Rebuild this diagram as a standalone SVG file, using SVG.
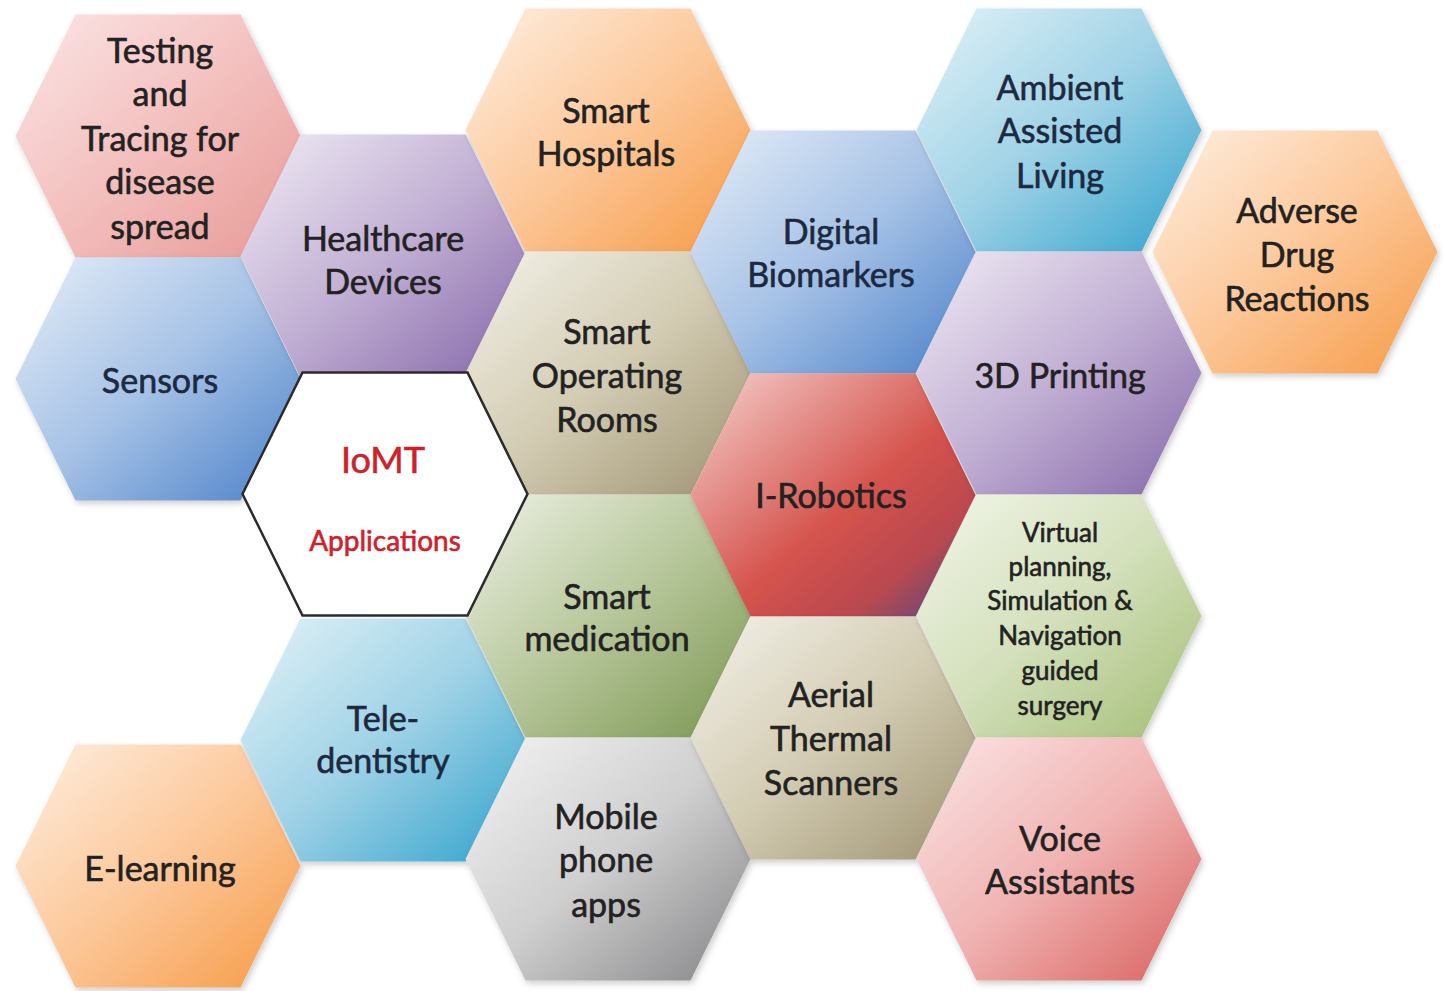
<svg xmlns="http://www.w3.org/2000/svg" xmlns:xlink="http://www.w3.org/1999/xlink" width="1447" height="991" viewBox="0 0 1447 991">
<style>
.t{font-family:Lato,"Open Sans","Liberation Sans",sans-serif;font-size:34px;text-anchor:middle;fill:#222;stroke:#222;stroke-width:0.6px}
.s{font-size:26px}
.d{fill:#1d2940;stroke:#1d2940}
.r{fill:#d0202a;stroke:#d0202a}
.hx{filter:url(#sh)}
</style>
<defs>
<polygon id="hex" points="-142.5,0 -82.5,-121.5 82.5,-121.5 142.5,0 82.5,121.5 -82.5,121.5"/>
<filter id="sh" x="-10%" y="-10%" width="120%" height="125%"><feDropShadow dx="2" dy="3" stdDeviation="3" flood-color="#000" flood-opacity="0.2"/></filter>
<linearGradient id="gPink" x1="0" y1="0" x2="1" y2="1"><stop offset="0" stop-color="#fbe6e6"/><stop offset="0.55" stop-color="#f2bcba"/><stop offset="1" stop-color="#e79a96"/></linearGradient>
<linearGradient id="gPurple" x1="0" y1="0" x2="1" y2="1"><stop offset="0" stop-color="#f1ecf5"/><stop offset="0.5" stop-color="#c2b0d4"/><stop offset="1" stop-color="#8467a8"/></linearGradient>
<linearGradient id="gBlue" x1="0" y1="0" x2="1" y2="1"><stop offset="0" stop-color="#e6eef8"/><stop offset="0.5" stop-color="#a6c2e6"/><stop offset="1" stop-color="#4a80c8"/></linearGradient>
<linearGradient id="gOrange" x1="0" y1="0" x2="1" y2="1"><stop offset="0" stop-color="#fef0e2"/><stop offset="0.5" stop-color="#fcc89a"/><stop offset="1" stop-color="#f69a45"/></linearGradient>
<linearGradient id="gCyan" x1="0" y1="0" x2="1" y2="1"><stop offset="0" stop-color="#e3f3f8"/><stop offset="0.5" stop-color="#9fd2e6"/><stop offset="1" stop-color="#30a2cc"/></linearGradient>
<linearGradient id="gKhaki" x1="0" y1="0" x2="1" y2="1"><stop offset="0" stop-color="#f4f2ea"/><stop offset="0.5" stop-color="#d3ccb3"/><stop offset="1" stop-color="#9d9170"/></linearGradient>
<linearGradient id="gRed" x1="0" y1="0" x2="1" y2="1"><stop offset="0" stop-color="#f6d3d0"/><stop offset="0.55" stop-color="#d5534d"/><stop offset="0.78" stop-color="#b9484f"/><stop offset="1" stop-color="#4c4b86"/></linearGradient>
<linearGradient id="gGreen" x1="0" y1="0" x2="1" y2="1"><stop offset="0" stop-color="#eef2e6"/><stop offset="0.5" stop-color="#b7c79b"/><stop offset="1" stop-color="#7a9550"/></linearGradient>
<linearGradient id="gLGreen" x1="0" y1="0" x2="1" y2="1"><stop offset="0" stop-color="#f2f6ea"/><stop offset="0.5" stop-color="#d3e0bb"/><stop offset="1" stop-color="#a3bd74"/></linearGradient>
<linearGradient id="gGray" x1="0" y1="0" x2="1" y2="1"><stop offset="0" stop-color="#f4f4f4"/><stop offset="0.5" stop-color="#cfcfd0"/><stop offset="1" stop-color="#838385"/></linearGradient>
<linearGradient id="gRose" x1="0" y1="0" x2="1" y2="1"><stop offset="0" stop-color="#fbe6e6"/><stop offset="0.5" stop-color="#f0b4b3"/><stop offset="1" stop-color="#d8605d"/></linearGradient>
</defs>

<g id="testing"><use class="hx" xlink:href="#hex" href="#hex" x="158" y="136" fill="url(#gPink)"/>
<text class="t"><tspan x="160" y="63">Testing</tspan><tspan x="160" y="106">and</tspan><tspan x="160" y="151">Tracing for</tspan><tspan x="160" y="194">disease</tspan><tspan x="160" y="239">spread</tspan></text></g>

<g id="sensors"><use class="hx" xlink:href="#hex" href="#hex" x="158" y="379" fill="url(#gBlue)"/>
<text class="t d" x="160" y="393">Sensors</text></g>

<g id="elearning"><use class="hx" xlink:href="#hex" href="#hex" x="158" y="866" fill="url(#gOrange)"/>
<text class="t" x="160" y="881">E-learning</text></g>

<g id="healthcare"><use class="hx" xlink:href="#hex" href="#hex" x="383" y="256" fill="url(#gPurple)"/>
<text class="t"><tspan x="383" y="251">Healthcare</tspan><tspan x="383" y="294">Devices</tspan></text></g>

<g id="teledentistry"><use class="hx" xlink:href="#hex" href="#hex" x="383" y="740" fill="url(#gCyan)"/>
<text class="t d"><tspan x="383" y="731">Tele-</tspan><tspan x="383" y="773">dentistry</tspan></text></g>

<g id="smarthospitals"><use class="hx" xlink:href="#hex" href="#hex" x="608" y="130" fill="url(#gOrange)"/>
<text class="t"><tspan x="606" y="123">Smart</tspan><tspan x="606" y="166">Hospitals</tspan></text></g>

<g id="smartor"><use class="hx" xlink:href="#hex" href="#hex" x="608" y="373" fill="url(#gKhaki)"/>
<text class="t"><tspan x="607" y="344">Smart</tspan><tspan x="607" y="388">Operating</tspan><tspan x="607" y="432">Rooms</tspan></text></g>

<g id="smartmedication"><use class="hx" xlink:href="#hex" href="#hex" x="608" y="616" fill="url(#gGreen)"/>
<text class="t"><tspan x="607" y="609">Smart</tspan><tspan x="607" y="651">medication</tspan></text></g>

<g id="mobileapps"><use class="hx" xlink:href="#hex" href="#hex" x="608" y="859" fill="url(#gGray)"/>
<text class="t"><tspan x="606" y="829">Mobile</tspan><tspan x="606" y="872">phone</tspan><tspan x="606" y="917">apps</tspan></text></g>

<g id="digitalbiomarkers"><use class="hx" xlink:href="#hex" href="#hex" x="833" y="252" fill="url(#gBlue)"/>
<text class="t d"><tspan x="831" y="244">Digital</tspan><tspan x="831" y="287">Biomarkers</tspan></text></g>

<g id="irobotics"><use class="hx" xlink:href="#hex" href="#hex" x="833" y="495" fill="url(#gRed)"/>
<text class="t" x="831" y="508">I-Robotics</text></g>

<g id="aerial"><use class="hx" xlink:href="#hex" href="#hex" x="833" y="738" fill="url(#gKhaki)"/>
<text class="t"><tspan x="831" y="707">Aerial</tspan><tspan x="831" y="751">Thermal</tspan><tspan x="831" y="795">Scanners</tspan></text></g>

<g id="ambient"><use class="hx" xlink:href="#hex" href="#hex" x="1059" y="130" fill="url(#gCyan)"/>
<text class="t d"><tspan x="1060" y="100">Ambient</tspan><tspan x="1060" y="143">Assisted</tspan><tspan x="1060" y="188">Living</tspan></text></g>

<g id="printing3d"><use class="hx" xlink:href="#hex" href="#hex" x="1059" y="373" fill="url(#gPurple)"/>
<text class="t" x="1060" y="388">3D Printing</text></g>

<g id="virtualplanning"><use class="hx" xlink:href="#hex" href="#hex" x="1059" y="616" fill="url(#gLGreen)"/>
<text class="t s"><tspan x="1060" y="542">Virtual</tspan><tspan x="1060" y="576">planning,</tspan><tspan x="1060" y="610">Simulation &amp;</tspan><tspan x="1060" y="645">Navigation</tspan><tspan x="1060" y="680">guided</tspan><tspan x="1060" y="715">surgery</tspan></text></g>

<g id="voice"><use class="hx" xlink:href="#hex" href="#hex" x="1059" y="859" fill="url(#gRose)"/>
<text class="t"><tspan x="1060" y="851">Voice</tspan><tspan x="1060" y="894">Assistants</tspan></text></g>

<g id="adverse"><use class="hx" xlink:href="#hex" href="#hex" x="1295" y="252" fill="url(#gOrange)"/>
<text class="t"><tspan x="1297" y="223">Adverse</tspan><tspan x="1297" y="267">Drug</tspan><tspan x="1297" y="311">Reactions</tspan></text></g>

<g id="iomt"><use xlink:href="#hex" href="#hex" x="385" y="494" fill="#ffffff" stroke="#2b2b2b" stroke-width="2.5"/>
<text class="t r" x="383" y="473" style="font-size:36px">IoMT</text>
<text class="t r" x="385" y="551" style="font-size:28px">Applications</text></g>
</svg>
